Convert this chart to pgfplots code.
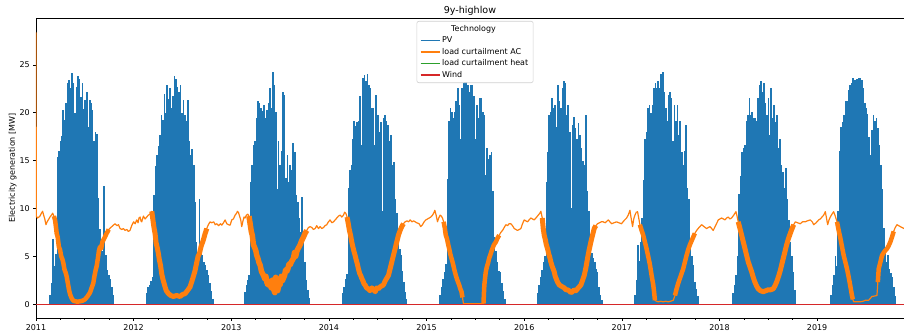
\documentclass[border=0pt]{standalone}
\usepackage{pgfplots}
\pgfplotsset{compat=1.18}
\usepackage{pgfplotstable}
\usepackage{fontspec}
\setmainfont{DejaVu Sans}
\definecolor{tabblue}{HTML}{1F77B4}
\definecolor{taborange}{HTML}{FF7F0E}
\definecolor{tabgreen}{HTML}{2CA02C}
\definecolor{tabred}{HTML}{D62728}

\pgfplotstableread{
x y
2011.000 28.4
2011.003 9.2
2011.015 9.0
2011.030 9.1
2011.041 9.2
2011.055 9.5
2011.068 9.7
2011.078 9.3
2011.090 8.9
2011.102 8.3
2011.114 8.6
2011.126 8.8
2011.143 9.1
2011.158 9.3
2011.171 9.5
2011.183 9.2
2011.195 8.8
2011.205 8.0
2011.212 7.4
2011.222 7.0
2011.234 6.0
2011.246 5.7
2011.258 5.0
2011.270 4.7
2011.280 4.3
2011.292 3.6
2011.303 3.3
2011.314 2.9
2011.326 2.2
2011.338 1.5
2011.350 1.0
2011.366 0.6
2011.383 0.35
2011.400 0.3
2011.425 0.25
2011.451 0.3
2011.476 0.35
2011.502 0.5
2011.527 0.8
2011.553 1.2
2011.570 1.7
2011.587 2.2
2011.600 3.0
2011.612 3.6
2011.622 4.0
2011.634 4.8
2011.645 5.6
2011.656 6.0
2011.668 5.8
2011.680 6.5
2011.690 6.7
2011.705 7.0
2011.724 7.4
2011.745 7.8
2011.776 8.1
2011.809 8.4
2011.830 8.2
2011.845 8.3
2011.861 7.9
2011.880 7.8
2011.895 7.9
2011.912 7.7
2011.930 7.8
2011.945 7.6
2011.963 7.7
2011.980 8.2
2012.000 8.6
2012.015 8.4
2012.032 8.8
2012.045 8.5
2012.055 9.0
2012.066 9.1
2012.075 8.7
2012.083 8.6
2012.100 9.2
2012.117 8.9
2012.134 9.1
2012.151 9.3
2012.168 9.4
2012.186 9.7
2012.200 8.6
2012.210 7.9
2012.219 7.4
2012.230 6.4
2012.242 5.9
2012.253 5.3
2012.264 4.6
2012.276 4.0
2012.287 3.2
2012.300 2.6
2012.311 2.2
2012.322 1.8
2012.335 1.4
2012.356 1.1
2012.380 0.9
2012.407 0.8
2012.440 0.9
2012.475 0.8
2012.500 1.0
2012.527 1.1
2012.550 1.4
2012.578 1.8
2012.600 2.5
2012.615 3.0
2012.629 3.5
2012.645 4.3
2012.660 5.0
2012.674 5.3
2012.690 6.0
2012.700 6.3
2012.714 6.7
2012.730 7.3
2012.749 7.9
2012.765 8.3
2012.783 8.6
2012.800 8.5
2012.820 8.6
2012.835 8.3
2012.851 8.4
2012.870 8.2
2012.890 8.4
2012.903 8.25
2012.920 8.5
2012.937 8.8
2012.954 8.4
2012.971 8.3
2012.988 8.25
2013.005 8.8
2013.022 8.9
2013.039 9.3
2013.055 9.5
2013.063 9.7
2013.073 9.6
2013.085 9.2
2013.097 8.8
2013.107 8.1
2013.120 8.7
2013.131 9.1
2013.141 9.0
2013.155 9.3
2013.169 9.4
2013.181 9.2
2013.193 8.4
2013.205 7.6
2013.215 7.2
2013.227 6.2
2013.240 5.9
2013.251 5.6
2013.261 5.1
2013.275 4.7
2013.285 4.3
2013.295 4.1
2013.310 3.4
2013.320 3.2
2013.330 3.0
2013.345 2.6
2013.355 2.9
2013.364 2.3
2013.375 2.0
2013.385 2.4
2013.398 2.0
2013.410 1.7
2013.420 2.5
2013.432 1.6
2013.445 1.2
2013.455 2.8
2013.466 2.3
2013.475 1.4
2013.490 2.1
2013.500 2.0
2013.512 2.9
2013.522 2.4
2013.534 2.7
2013.546 3.0
2013.557 3.6
2013.568 3.4
2013.580 3.7
2013.592 4.2
2013.603 4.1
2013.615 4.4
2013.626 4.6
2013.637 4.8
2013.648 5.4
2013.660 5.0
2013.671 5.5
2013.684 5.8
2013.695 6.0
2013.705 6.2
2013.720 6.6
2013.739 7.0
2013.756 7.4
2013.773 7.7
2013.790 8.0
2013.808 8.1
2013.825 8.0
2013.842 7.8
2013.859 7.9
2013.875 8.2
2013.893 7.9
2013.910 8.1
2013.927 7.9
2013.944 8.0
2013.961 8.2
2013.978 8.3
2013.995 8.6
2014.012 8.8
2014.030 8.5
2014.047 8.6
2014.064 8.8
2014.081 9.0
2014.098 9.2
2014.115 9.3
2014.132 9.1
2014.149 9.3
2014.161 9.6
2014.173 9.5
2014.186 9.1
2014.200 8.3
2014.210 7.7
2014.222 7.2
2014.234 6.5
2014.245 6.0
2014.257 5.5
2014.268 5.1
2014.280 4.6
2014.291 4.2
2014.302 3.7
2014.315 3.2
2014.325 3.0
2014.336 2.7
2014.350 2.4
2014.360 2.1
2014.371 2.0
2014.385 1.7
2014.405 1.6
2014.420 1.4
2014.440 1.7
2014.456 1.5
2014.475 1.3
2014.490 1.7
2014.507 1.6
2014.525 1.8
2014.540 1.9
2014.558 2.0
2014.575 2.4
2014.592 2.7
2014.610 3.0
2014.627 3.7
2014.644 4.4
2014.661 5.1
2014.678 5.8
2014.695 6.5
2014.712 7.2
2014.729 7.7
2014.746 8.1
2014.763 8.4
2014.781 8.6
2014.800 8.7
2014.815 8.6
2014.832 8.8
2014.850 8.6
2014.867 8.7
2014.883 8.6
2014.900 8.5
2014.924 8.4
2014.940 8.1
2014.958 8.3
2014.975 8.6
2014.993 8.8
2015.010 8.9
2015.027 9.0
2015.044 9.1
2015.061 9.3
2015.073 9.5
2015.085 9.8
2015.098 9.3
2015.112 8.6
2015.125 9.0
2015.139 9.3
2015.151 9.2
2015.163 9.0
2015.175 8.6
2015.186 8.0
2015.197 7.2
2015.210 6.8
2015.222 6.2
2015.232 5.8
2015.244 5.2
2015.255 4.8
2015.266 4.4
2015.278 3.9
2015.289 3.4
2015.300 3.0
2015.312 2.6
2015.323 2.3
2015.334 2.0
2015.346 1.6
2015.358 1.3
2015.368 0.7
2015.378 0.05
2015.420 0.05
2015.488 0.05
2015.556 0.05
2015.583 0.05
2015.588 1.2
2015.592 2.0
2015.600 2.8
2015.607 3.4
2015.618 3.9
2015.630 4.3
2015.641 4.8
2015.652 5.1
2015.664 5.5
2015.675 5.8
2015.690 6.2
2015.710 6.5
2015.727 6.9
2015.744 7.2
2015.761 7.5
2015.778 7.7
2015.795 8.0
2015.812 8.3
2015.830 8.2
2015.845 8.4
2015.863 8.4
2015.880 8.2
2015.898 7.9
2015.915 7.8
2015.932 7.7
2015.950 7.8
2015.966 7.9
2015.983 8.4
2016.000 8.8
2016.017 8.7
2016.034 8.6
2016.050 8.8
2016.068 9.0
2016.085 8.9
2016.102 8.8
2016.120 9.0
2016.144 9.3
2016.160 9.5
2016.171 9.7
2016.185 9.0
2016.195 7.9
2016.205 7.2
2016.215 6.8
2016.227 6.2
2016.239 5.8
2016.250 5.3
2016.262 4.9
2016.273 4.4
2016.285 4.0
2016.296 3.7
2016.307 3.4
2016.318 2.9
2016.330 2.6
2016.342 2.3
2016.360 2.0
2016.376 1.9
2016.393 1.8
2016.410 1.7
2016.427 1.5
2016.444 1.5
2016.460 1.4
2016.478 1.2
2016.495 1.3
2016.512 1.5
2016.530 1.4
2016.546 1.6
2016.563 1.8
2016.581 2.0
2016.598 2.5
2016.615 3.0
2016.632 3.8
2016.649 4.8
2016.666 5.7
2016.683 6.5
2016.700 7.2
2016.717 7.9
2016.734 8.2
2016.751 8.4
2016.770 8.5
2016.790 8.6
2016.809 8.6
2016.830 8.5
2016.861 8.8
2016.878 8.6
2016.895 8.4
2016.920 8.5
2016.946 8.6
2016.970 8.5
2016.997 8.4
2017.020 8.7
2017.049 9.0
2017.065 9.3
2017.083 9.8
2017.095 9.0
2017.110 8.1
2017.122 8.9
2017.134 9.3
2017.148 9.6
2017.161 9.66
2017.173 9.0
2017.185 8.3
2017.200 7.8
2017.219 7.2
2017.236 6.5
2017.253 5.8
2017.270 5.0
2017.288 4.1
2017.305 3.0
2017.322 2.0
2017.330 1.3
2017.339 0.4
2017.356 0.3
2017.373 0.24
2017.400 0.3
2017.424 0.24
2017.450 0.3
2017.475 0.24
2017.500 0.3
2017.527 0.4
2017.544 0.9
2017.561 1.6
2017.578 2.2
2017.595 2.7
2017.612 3.2
2017.629 3.7
2017.646 4.4
2017.663 5.1
2017.680 5.7
2017.697 6.2
2017.714 6.6
2017.731 7.0
2017.748 7.4
2017.766 7.7
2017.790 8.0
2017.817 8.3
2017.842 8.1
2017.868 7.9
2017.885 8.0
2017.902 8.1
2017.920 7.9
2017.936 7.7
2017.960 8.2
2017.988 8.8
2018.005 8.9
2018.022 9.0
2018.040 8.9
2018.056 8.8
2018.073 9.0
2018.090 9.1
2018.107 8.9
2018.124 9.0
2018.146 9.3
2018.169 9.66
2018.180 9.2
2018.192 8.6
2018.210 7.9
2018.227 7.2
2018.244 6.5
2018.261 5.8
2018.278 5.1
2018.295 4.4
2018.312 3.9
2018.329 3.4
2018.346 2.8
2018.363 2.3
2018.380 1.9
2018.397 1.6
2018.420 1.4
2018.449 1.3
2018.475 1.4
2018.500 1.5
2018.525 1.5
2018.551 1.6
2018.568 1.9
2018.585 2.3
2018.602 2.8
2018.620 3.4
2018.637 4.1
2018.654 4.8
2018.671 5.5
2018.688 6.2
2018.705 6.8
2018.722 7.3
2018.740 7.8
2018.760 8.3
2018.777 8.6
2018.800 8.5
2018.828 8.4
2018.850 8.6
2018.879 8.6
2018.900 8.7
2018.930 8.8
2018.950 8.6
2018.965 8.3
2018.990 8.5
2019.016 8.8
2019.033 8.9
2019.050 9.1
2019.067 9.3
2019.084 9.66
2019.096 9.0
2019.108 8.3
2019.122 8.8
2019.135 9.1
2019.152 9.4
2019.169 9.66
2019.186 9.2
2019.204 8.6
2019.221 7.7
2019.238 6.9
2019.255 6.0
2019.272 5.1
2019.289 4.4
2019.306 3.7
2019.320 3.0
2019.333 2.3
2019.345 1.6
2019.357 0.9
2019.366 0.5
2019.374 0.24
2019.400 0.25
2019.443 0.24
2019.470 0.3
2019.494 0.4
2019.528 0.4
2019.545 0.6
2019.562 0.8
2019.590 0.85
2019.613 0.9
2019.622 2.3
2019.631 3.7
2019.648 4.4
2019.665 5.1
2019.690 5.5
2019.716 5.8
2019.733 6.1
2019.750 6.5
2019.767 7.0
2019.784 7.6
2019.800 8.0
2019.818 8.3
2019.835 8.2
2019.852 8.1
2019.870 8.0
2019.890 7.9
}\acdata

\begin{document}
\begin{tikzpicture}
\useasboundingbox (-36bp,-13bp) rectangle (868bp,318bp);
\begin{axis}[
  at={(0,0)}, anchor=south west,
  scale only axis, width=868bp, height=300bp,
  xmin=2011, xmax=2019.89, ymin=-1.45, ymax=29.9,
  xtick={2011,2012,2013,2014,2015,2016,2017,2018,2019},
  xticklabels={2011,2012,2013,2014,2015,2016,2017,2018,2019},
  minor x tick num=3,
  ytick={0,5,10,15,20,25},
  xtick pos=left, ytick pos=left,
  tick align=outside,
  major tick length=2.8bp, minor tick length=1.6bp,
  tick style={line width=0.64bp, black},
  axis line style={line width=0.64bp},
  every tick label/.append style={font=\fontsize{8}{9.6}\selectfont},
  /pgf/number format/assume math mode=true,
  title={9y-highlow},
  every axis title/.style={at={(0.5,1)}, anchor=base, yshift=4.5bp, font=\fontsize{9.6}{11.5}\selectfont},
  ylabel={Electricity generation [MW]},
  every axis y label/.style={at={(axis description cs:-0.0222,0.5)}, rotate=90, anchor=south, inner sep=0pt, font=\fontsize{8}{9.6}\selectfont},
  legend style={at={(0.5058,0.99)}, anchor=north, draw=black!18, fill=white, rounded corners=2bp, font=\fontsize{8}{9.6}\selectfont, line width=0.6bp},
  legend cell align=left,
]
\addlegendimage{empty legend}
\addlegendentry{\hspace*{9bp}Technology}
\addlegendimage{legend image code/.code={\draw[draw=tabblue, line width=1.3bp] (0bp,0bp) -- (19bp,0bp);}}
\addlegendentry{PV}
\addlegendimage{legend image code/.code={\draw[draw=taborange, line width=1.3bp] (0bp,0bp) -- (19bp,0bp);}}
\addlegendentry{load curtailment AC}
\addlegendimage{legend image code/.code={\draw[draw=tabgreen, line width=1.3bp] (0bp,0bp) -- (19bp,0bp);}}
\addlegendentry{load curtailment heat}
\addlegendimage{legend image code/.code={\draw[draw=tabred, line width=1.3bp] (0bp,0bp) -- (19bp,0bp);}}
\addlegendentry{Wind}

\addplot[ycomb, tabblue, line width=1.7bp, forget plot] coordinates {
(2011.145,1.0)(2011.160,2.2)(2011.175,6.8)(2011.190,4.0)(2011.205,5.2)(2011.220,15.4)(2011.235,16.0)(2011.250,17.0)(2011.265,17.6)(2011.280,20.3)(2011.295,19.2)(2011.310,21.0)(2011.325,23.1)(2011.340,23.4)(2011.355,22.6)(2011.370,24.2)(2011.385,23.1)(2011.400,20.0)(2011.415,22.7)(2011.430,23.8)(2011.445,23.5)(2011.460,21.6)(2011.475,23.1)(2011.490,20.4)(2011.505,21.3)(2011.520,22.2)(2011.535,18.5)(2011.550,21.3)(2011.565,21.0)(2011.580,20.3)(2011.595,17.0)(2011.610,18.0)(2011.625,17.8)(2011.640,11.1)(2011.655,7.8)(2011.670,6.2)(2011.685,5.5)(2011.700,12.3)(2011.715,5.1)(2011.730,3.6)(2011.745,3.0)(2011.760,2.6)(2011.775,1.8)(2011.790,1.0)
(2012.135,1.2)(2012.150,1.8)(2012.165,2.0)(2012.180,2.4)(2012.195,2.8)(2012.210,11.4)(2012.225,14.4)(2012.240,15.6)(2012.255,16.5)(2012.270,17.7)(2012.285,19.8)(2012.300,19.2)(2012.315,22.0)(2012.330,20.0)(2012.345,22.9)(2012.360,21.4)(2012.375,22.6)(2012.390,20.5)(2012.405,21.8)(2012.420,23.8)(2012.435,23.5)(2012.450,22.7)(2012.465,22.2)(2012.480,22.9)(2012.495,20.0)(2012.510,21.3)(2012.525,19.8)(2012.540,19.1)(2012.555,21.3)(2012.570,17.0)(2012.585,15.6)(2012.600,16.2)(2012.615,14.5)(2012.630,10.7)(2012.645,6.5)(2012.660,5.3)(2012.675,11.0)(2012.690,6.5)(2012.705,5.1)(2012.720,4.4)(2012.735,4.1)(2012.750,3.6)(2012.765,3.0)(2012.780,2.2)(2012.795,1.4)(2012.810,0.5)
(2013.140,1.3)(2013.155,2.0)(2013.170,2.5)(2013.185,3.0)(2013.200,12.8)(2013.215,14.5)(2013.230,16.6)(2013.245,17.0)(2013.260,19.5)(2013.275,21.2)(2013.290,21.0)(2013.305,20.5)(2013.320,20.2)(2013.335,20.8)(2013.350,19.4)(2013.365,20.3)(2013.380,21.0)(2013.395,22.6)(2013.410,20.5)(2013.425,24.3)(2013.440,22.9)(2013.455,20.1)(2013.470,12.0)(2013.485,17.0)(2013.500,14.5)(2013.515,16.0)(2013.530,22.2)(2013.545,21.9)(2013.560,13.2)(2013.575,15.6)(2013.590,12.8)(2013.605,14.5)(2013.620,14.0)(2013.635,16.8)(2013.650,15.9)(2013.665,11.4)(2013.680,10.7)(2013.695,9.0)(2013.710,7.5)(2013.725,11.2)(2013.740,6.5)(2013.755,4.4)(2013.770,2.5)(2013.785,1.5)(2013.795,0.6)
(2014.140,1.2)(2014.155,1.8)(2014.170,2.6)(2014.185,3.2)(2014.200,12.1)(2014.215,14.0)(2014.230,14.5)(2014.245,17.3)(2014.260,19.1)(2014.275,18.6)(2014.290,19.0)(2014.305,19.1)(2014.320,21.7)(2014.335,16.6)(2014.350,23.6)(2014.365,23.9)(2014.380,23.3)(2014.395,24.0)(2014.410,22.9)(2014.425,22.6)(2014.440,20.5)(2014.455,20.5)(2014.470,16.6)(2014.485,21.9)(2014.500,19.8)(2014.515,18.0)(2014.530,19.0)(2014.545,9.7)(2014.560,19.4)(2014.575,19.8)(2014.590,19.1)(2014.605,18.7)(2014.620,17.0)(2014.635,17.7)(2014.650,14.5)(2014.665,14.8)(2014.680,11.0)(2014.695,9.5)(2014.710,6.9)(2014.725,5.8)(2014.740,5.1)(2014.755,3.5)(2014.770,2.3)(2014.785,1.3)(2014.795,0.5)
(2015.140,1.0)(2015.155,1.8)(2015.170,2.6)(2015.185,3.4)(2015.200,4.2)(2015.215,13.1)(2015.230,19.1)(2015.245,20.5)(2015.260,20.1)(2015.275,19.5)(2015.290,20.1)(2015.305,21.2)(2015.320,22.6)(2015.335,20.8)(2015.350,17.3)(2015.365,22.6)(2015.380,23.1)(2015.395,23.3)(2015.410,23.6)(2015.425,22.9)(2015.440,22.2)(2015.455,22.9)(2015.470,22.9)(2015.485,21.7)(2015.500,17.3)(2015.515,20.8)(2015.530,19.4)(2015.545,21.5)(2015.560,21.5)(2015.575,20.1)(2015.590,19.8)(2015.605,13.5)(2015.620,16.3)(2015.635,15.2)(2015.650,15.6)(2015.665,15.9)(2015.680,11.8)(2015.695,7.0)(2015.710,5.5)(2015.725,4.4)(2015.740,3.5)(2015.755,3.4)(2015.770,2.2)(2015.785,1.4)(2015.800,0.5)
(2016.137,1.2)(2016.152,2.0)(2016.167,2.8)(2016.182,3.6)(2016.197,4.4)(2016.212,5.0)(2016.227,12.8)(2016.242,15.9)(2016.257,19.8)(2016.272,20.1)(2016.287,21.5)(2016.302,20.5)(2016.317,20.8)(2016.332,18.5)(2016.347,22.9)(2016.362,21.2)(2016.377,20.5)(2016.392,22.6)(2016.407,23.3)(2016.422,23.1)(2016.437,19.8)(2016.452,20.8)(2016.467,18.0)(2016.482,10.0)(2016.497,18.7)(2016.512,19.6)(2016.527,18.4)(2016.542,17.3)(2016.557,18.9)(2016.572,17.7)(2016.587,16.3)(2016.602,15.0)(2016.617,14.5)(2016.632,19.8)(2016.647,11.8)(2016.662,9.7)(2016.677,6.5)(2016.692,5.3)(2016.707,4.8)(2016.722,4.4)(2016.737,3.7)(2016.752,3.4)(2016.767,1.8)(2016.782,1.0)(2016.795,0.4)
(2017.134,1.0)(2017.149,2.5)(2017.164,6.2)(2017.179,4.5)(2017.194,6.5)(2017.209,9.0)(2017.224,13.0)(2017.239,17.3)(2017.254,18.0)(2017.269,20.5)(2017.284,20.8)(2017.299,20.0)(2017.314,20.8)(2017.329,22.6)(2017.344,23.1)(2017.359,22.6)(2017.374,23.3)(2017.389,22.6)(2017.404,24.0)(2017.419,24.3)(2017.434,22.2)(2017.449,20.5)(2017.464,19.1)(2017.479,21.9)(2017.494,22.2)(2017.509,21.5)(2017.524,17.0)(2017.539,20.8)(2017.554,19.1)(2017.569,20.8)(2017.584,17.7)(2017.599,19.1)(2017.614,15.9)(2017.629,14.5)(2017.644,16.0)(2017.659,18.7)(2017.674,12.1)(2017.689,11.0)(2017.704,6.5)(2017.719,5.0)(2017.734,4.1)(2017.749,2.3)(2017.764,1.6)(2017.779,0.8)
(2018.141,1.2)(2018.156,2.0)(2018.171,3.0)(2018.186,5.0)(2018.201,11.5)(2018.216,13.4)(2018.231,15.9)(2018.246,16.3)(2018.261,16.6)(2018.276,19.1)(2018.291,19.8)(2018.306,21.5)(2018.321,19.8)(2018.336,20.1)(2018.351,19.4)(2018.366,19.4)(2018.381,19.1)(2018.396,21.5)(2018.411,22.9)(2018.426,23.3)(2018.441,22.2)(2018.456,23.1)(2018.471,21.0)(2018.486,19.8)(2018.501,21.5)(2018.516,17.7)(2018.531,22.6)(2018.546,19.4)(2018.561,20.8)(2018.576,19.0)(2018.591,19.8)(2018.606,16.3)(2018.621,17.3)(2018.636,14.5)(2018.651,13.8)(2018.666,12.1)(2018.681,14.2)(2018.696,11.0)(2018.711,8.8)(2018.726,6.5)(2018.741,5.0)(2018.756,3.4)(2018.771,1.5)
(2019.142,1.0)(2019.157,2.0)(2019.172,3.0)(2019.187,5.0)(2019.202,4.0)(2019.217,9.7)(2019.232,16.0)(2019.247,18.5)(2019.262,19.0)(2019.277,19.8)(2019.292,21.2)(2019.307,21.2)(2019.322,22.4)(2019.337,22.9)(2019.352,23.1)(2019.367,23.6)(2019.382,23.4)(2019.397,23.4)(2019.412,23.5)(2019.427,23.6)(2019.442,23.6)(2019.457,23.4)(2019.472,22.6)(2019.487,21.0)(2019.502,20.5)(2019.517,19.9)(2019.532,17.5)(2019.547,15.6)(2019.562,18.2)(2019.577,19.8)(2019.592,19.1)(2019.607,19.4)(2019.622,18.4)(2019.637,16.6)(2019.652,14.5)(2019.667,12.0)(2019.682,8.0)(2019.697,5.8)(2019.712,4.4)(2019.727,5.1)(2019.742,3.7)(2019.757,3.3)(2019.772,2.8)(2019.787,1.8)(2019.802,0.8)
};

\addplot[taborange, line width=1.2bp, line join=round, forget plot] table {\acdata};

\addplot[taborange, line width=4.5bp, line join=round, forget plot, restrict x to domain=2011.19:2011.76] table {\acdata};
\addplot[taborange, line width=5bp, line join=round, forget plot, restrict x to domain=2012.19:2012.76] table {\acdata};
\addplot[taborange, line width=5.5bp, line join=round, forget plot, restrict x to domain=2013.19:2013.78] table {\acdata};
\addplot[taborange, line width=5bp, line join=round, forget plot, restrict x to domain=2014.19:2014.77] table {\acdata};
\addplot[taborange, line width=4.5bp, line join=round, forget plot, restrict x to domain=2015.18:2015.37] table {\acdata};
\addplot[taborange, line width=4.5bp, line join=round, forget plot, restrict x to domain=2015.585:2015.75] table {\acdata};
\addplot[taborange, line width=5bp, line join=round, forget plot, restrict x to domain=2016.19:2016.74] table {\acdata};
\addplot[taborange, line width=4.5bp, line join=round, forget plot, restrict x to domain=2017.18:2017.335] table {\acdata};
\addplot[taborange, line width=4.5bp, line join=round, forget plot, restrict x to domain=2017.54:2017.74] table {\acdata};
\addplot[taborange, line width=5bp, line join=round, forget plot, restrict x to domain=2018.19:2018.75] table {\acdata};
\addplot[taborange, line width=4.5bp, line join=round, forget plot, restrict x to domain=2019.20:2019.36] table {\acdata};
\addplot[taborange, line width=4.5bp, line join=round, forget plot, restrict x to domain=2019.62:2019.79] table {\acdata};

\addplot[tabgreen, line width=1.2bp, forget plot] coordinates {(2011,0) (2019.89,0)};
\addplot[tabred, line width=1.2bp, forget plot] coordinates {(2011,0) (2019.89,0)};
\end{axis}
\end{tikzpicture}
\end{document}
